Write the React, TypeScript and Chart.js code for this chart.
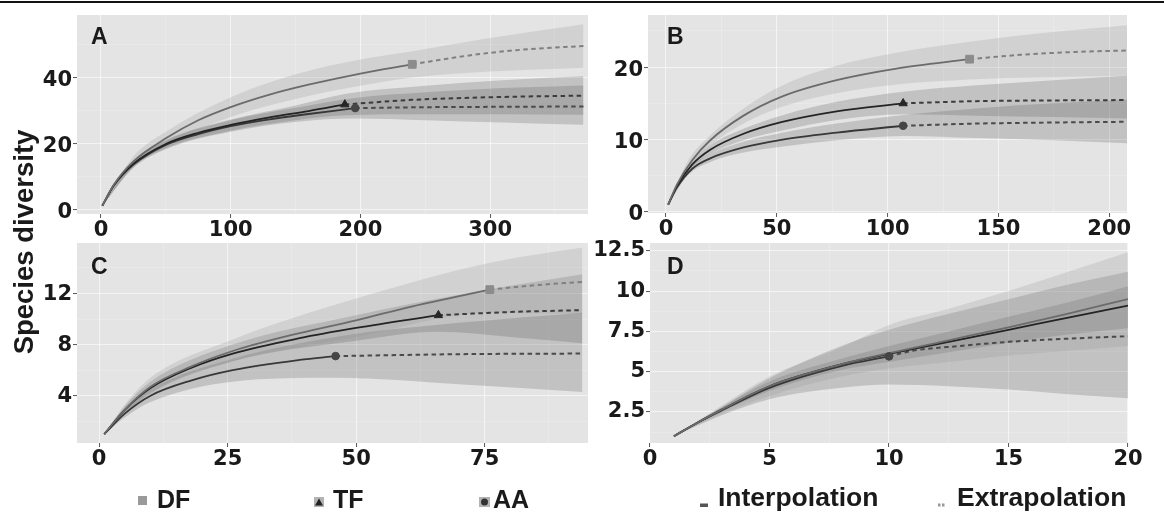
import React, { useEffect, useRef } from "react";
import { Chart, registerables } from "chart.js";

Chart.register(...registerables);

// ---------------- Panel A ----------------
const A_xTicks = [0, 100, 200, 300];
const A_yTicks = [0, 20, 40];
const A_DF_ix = [1, 10, 25, 50, 75, 100, 130, 160, 200, 240];
const A_DF_iy = [1, 7.5, 14.5, 21.5, 27, 31, 34.8, 37.8, 41.2, 44];
const A_DF_ex = [240, 280, 320, 372];
const A_DF_ey = [44, 46.5, 48.3, 49.6];
const A_DF_bx = [1, 25, 50, 100, 150, 200, 240, 300, 372];
const A_DF_lo = [1, 13, 19.5, 28, 33.5, 37.5, 40, 41.8, 43];
const A_DF_hi = [1, 16, 23.5, 34, 41, 45.5, 48, 52, 56.2];

const A_TF_ix = [1, 10, 25, 50, 75, 100, 130, 160, 188];
const A_TF_iy = [1, 7.3, 13.8, 19.8, 23.2, 25.6, 27.9, 29.8, 31.8];
const A_TF_ex = [188, 240, 300, 372];
const A_TF_ey = [31.8, 33.2, 34.0, 34.5];
const A_TF_bx = [1, 25, 50, 100, 150, 188, 250, 310, 372];
const A_TF_lo = [1, 12.8, 18.5, 23.8, 27, 28.5, 28.8, 28.8, 28.7];
const A_TF_hi = [1, 14.8, 21, 27.2, 31.5, 35, 37.5, 39.2, 40.4];

const A_AA_ix = [1, 10, 25, 50, 75, 100, 130, 160, 196];
const A_AA_iy = [1, 7.2, 13.5, 19.5, 22.8, 25.2, 27.3, 28.9, 30.7];
const A_AA_ex = [196, 260, 320, 372];
const A_AA_ey = [30.7, 31.0, 31.1, 31.2];
const A_AA_bx = [1, 25, 50, 100, 150, 196, 250, 310, 372];
const A_AA_lo = [1, 12.5, 18.2, 23.5, 26.5, 27.5, 27, 26.3, 25.6];
const A_AA_hi = [1, 14.5, 20.8, 27, 30.8, 33.8, 35.5, 36.8, 37.6];

// ---------------- Panel B ----------------
const B_xTicks = [0, 50, 100, 150, 200];
const B_yTicks = [0, 10, 20];
const B_DF_ix = [1, 5, 12, 20, 35, 52, 77, 104, 137];
const B_DF_iy = [1, 3.8, 7.2, 9.9, 13.3, 15.9, 18.2, 19.8, 21.1];
const B_DF_ex = [137, 160, 185, 208];
const B_DF_ey = [21.1, 21.7, 22.1, 22.3];
const B_DF_bx = [1, 10, 20, 35, 52, 77, 104, 137, 170, 208];
const B_DF_lo = [1, 6.3, 9.2, 12.2, 14.5, 16.4, 17.6, 18.3, 18.6, 18.8];
const B_DF_hi = [1, 7.1, 10.6, 14.3, 17.4, 20.2, 22.0, 23.5, 24.7, 25.8];

const B_TF_ix = [1, 5, 12, 20, 35, 52, 77, 107];
const B_TF_iy = [1, 3.6, 6.6, 8.6, 10.8, 12.4, 13.9, 15.0];
const B_TF_ex = [107, 140, 175, 208];
const B_TF_ey = [15.0, 15.3, 15.4, 15.45];
const B_TF_bx = [1, 10, 20, 35, 52, 77, 107, 140, 175, 208];
const B_TF_lo = [1, 5.6, 8.0, 9.9, 11.2, 12.7, 13.5, 13.3, 13.1, 12.9];
const B_TF_hi = [1, 6.3, 9.2, 11.5, 13.3, 15.2, 16.6, 17.5, 18.2, 18.8];

const B_AA_ix = [1, 5, 12, 20, 35, 52, 77, 107];
const B_AA_iy = [1, 3.4, 6.0, 7.4, 8.9, 9.95, 10.95, 11.9];
const B_AA_ex = [107, 140, 175, 208];
const B_AA_ey = [11.9, 12.2, 12.35, 12.45];
const B_AA_bx = [1, 10, 20, 35, 52, 77, 107, 140, 175, 208];
const B_AA_lo = [1, 5.1, 6.9, 8.2, 9.0, 9.9, 10.5, 10.2, 9.9, 9.5];
const B_AA_hi = [1, 5.8, 8.0, 9.7, 10.9, 12.2, 13.4, 14.3, 15.0, 15.5];

// ---------------- Panel C ----------------
const C_xTicks = [0, 25, 50, 75];
const C_yTicks = [4, 8, 12];
const C_DF_ix = [1, 5, 10, 18, 26, 39, 50, 61, 76];
const C_DF_iy = [1, 2.9, 4.7, 6.3, 7.5, 8.9, 9.9, 11.0, 12.3];
const C_DF_ex = [76, 85, 94];
const C_DF_ey = [12.3, 12.65, 12.9];
const C_DF_bx = [1, 5, 10, 26, 50, 76, 94];
const C_DF_lo = [1, 2.6, 4.3, 6.7, 8.6, 10.5, 10.4];
const C_DF_hi = [1, 3.3, 5.4, 8.4, 11.6, 14.4, 15.6];

const C_TF_ix = [1, 5, 10, 18, 26, 39, 50, 66];
const C_TF_iy = [1, 2.9, 4.6, 6.2, 7.3, 8.5, 9.3, 10.3];
const C_TF_ex = [66, 80, 94];
const C_TF_ey = [10.3, 10.55, 10.7];
const C_TF_bx = [1, 5, 10, 26, 50, 66, 80, 94];
const C_TF_lo = [1, 2.6, 4.2, 6.7, 8.3, 9.0, 8.6, 8.1];
const C_TF_hi = [1, 3.2, 5.1, 8.0, 10.3, 11.6, 12.6, 13.5];

const C_AA_ix = [1, 5, 10, 18, 26, 39, 46];
const C_AA_iy = [1, 2.6, 4.0, 5.2, 6.0, 6.8, 7.1];
const C_AA_ex = [46, 70, 94];
const C_AA_ey = [7.1, 7.25, 7.3];
const C_AA_bx = [1, 5, 10, 26, 46, 70, 94];
const C_AA_lo = [1, 2.3, 3.5, 5.1, 5.4, 4.9, 4.3];
const C_AA_hi = [1, 2.9, 4.5, 6.9, 8.6, 9.7, 10.5];

// ---------------- Panel D ----------------
const D_xTicks = [0, 5, 10, 15, 20];
const D_yTicks = [2.5, 5, 7.5, 10, 12.5];
const D_DF_ix = [1, 2, 3, 5, 8, 10, 12.5, 15, 17.5, 20];
const D_DF_iy = [1, 1.85, 2.65, 4.1, 5.45, 6.15, 6.95, 7.75, 8.6, 9.5];
const D_DF_ex: number[] = [];
const D_DF_ey: number[] = [];
const D_DF_bx = [1, 3, 5, 8, 10, 12.5, 15, 17.5, 20];
const D_DF_lo = [1, 2.4, 3.5, 4.7, 5.2, 5.6, 6.0, 6.3, 6.6];
const D_DF_hi = [1, 2.9, 4.7, 6.5, 7.9, 8.9, 10.0, 11.2, 12.4];

const D_TF_ix = [1, 2, 3, 5, 8, 10, 12.5, 15, 17.5, 20];
const D_TF_iy = [1, 1.85, 2.65, 4.1, 5.45, 6.1, 6.85, 7.6, 8.35, 9.1];
const D_TF_ex: number[] = [];
const D_TF_ey: number[] = [];
const D_TF_bx = [1, 3, 5, 8, 10, 12.5, 15, 17.5, 20];
const D_TF_lo = [1, 2.5, 3.8, 5.1, 5.6, 6.2, 6.8, 7.3, 7.7];
const D_TF_hi = [1, 2.8, 4.4, 5.8, 6.6, 7.5, 8.4, 9.3, 10.3];

const D_AA_ix = [1, 2, 3, 5, 8, 10];
const D_AA_iy = [1, 1.85, 2.6, 4.0, 5.35, 5.95];
const D_AA_ex = [10, 11, 13, 15, 17.5, 20];
const D_AA_ey = [5.95, 6.3, 6.6, 6.85, 7.05, 7.2];
const D_AA_bx = [1, 3, 5, 8, 10, 12.5, 15, 17.5, 20];
const D_AA_lo = [1, 2.3, 3.3, 4.0, 4.2, 4.1, 3.9, 3.6, 3.35];
const D_AA_hi = [1, 2.8, 4.6, 6.6, 7.6, 8.6, 9.5, 10.4, 11.2];

// ---------------- styles ----------------
const STYLE: Record<string, any> = {
  DF: { band: "rgba(150,150,150,0.24)", line: "#6b6b6b", dash: "#808080", shape: "rect", pcol: "#8c8c8c", r: 5.5 },
  TF: { band: "rgba(90,90,90,0.25)", line: "#242424", dash: "#3c3c3c", shape: "triangle", pcol: "#262626", r: 4.8 },
  AA: { band: "rgba(80,80,80,0.23)", line: "#383838", dash: "#4a4a4a", shape: "circle", pcol: "#454545", r: 3.8 },
};

const grp = (name: string, ix: number[], iy: number[], ex: number[], ey: number[], bx: number[], lo: number[], hi: number[]) => ({
  name, ix, iy, ex, ey, bx, lo, hi,
});

const PANELS = [
  {
    id: "A", left: 0, top: 0, w: 618, h: 245, area: { l: 77, t: 15, r: 588, b: 214 }, yLabelShift: 3,
    x: { min: -18.5, max: 375.5, major: A_xTicks }, y: { min: -1.5, max: 59, major: A_yTicks },
    groups: [
      grp("DF", A_DF_ix, A_DF_iy, A_DF_ex, A_DF_ey, A_DF_bx, A_DF_lo, A_DF_hi),
      grp("TF", A_TF_ix, A_TF_iy, A_TF_ex, A_TF_ey, A_TF_bx, A_TF_lo, A_TF_hi),
      grp("AA", A_AA_ix, A_AA_iy, A_AA_ex, A_AA_ey, A_AA_bx, A_AA_lo, A_AA_hi),
    ],
  },
  {
    id: "B", left: 560, top: 0, w: 597, h: 245, area: { l: 88, t: 15, r: 567, b: 213 }, yLabelShift: 3,
    x: { min: -8.1, max: 208, major: B_xTicks }, y: { min: -0.15, max: 27.2, major: B_yTicks },
    groups: [
      grp("DF", B_DF_ix, B_DF_iy, B_DF_ex, B_DF_ey, B_DF_bx, B_DF_lo, B_DF_hi),
      grp("TF", B_TF_ix, B_TF_iy, B_TF_ex, B_TF_ey, B_TF_bx, B_TF_lo, B_TF_hi),
      grp("AA", B_AA_ix, B_AA_iy, B_AA_ex, B_AA_ey, B_AA_bx, B_AA_lo, B_AA_hi),
    ],
  },
  {
    id: "C", left: 0, top: 225, w: 618, h: 250, area: { l: 77, t: 18, r: 588, b: 218 }, yLabelShift: 1,
    x: { min: -4.3, max: 95.1, major: C_xTicks }, y: { min: 0.3, max: 15.95, major: C_yTicks },
    groups: [
      grp("DF", C_DF_ix, C_DF_iy, C_DF_ex, C_DF_ey, C_DF_bx, C_DF_lo, C_DF_hi),
      grp("TF", C_TF_ix, C_TF_iy, C_TF_ex, C_TF_ey, C_TF_bx, C_TF_lo, C_TF_hi),
      grp("AA", C_AA_ix, C_AA_iy, C_AA_ex, C_AA_ey, C_AA_bx, C_AA_lo, C_AA_hi),
    ],
  },
  {
    id: "D", left: 560, top: 225, w: 598, h: 250, area: { l: 90, t: 18, r: 568, b: 218 }, yLabelShift: 0,
    x: { min: 0, max: 20, major: D_xTicks }, y: { min: 0.58, max: 12.98, major: D_yTicks },
    groups: [
      grp("DF", D_DF_ix, D_DF_iy, D_DF_ex, D_DF_ey, D_DF_bx, D_DF_lo, D_DF_hi),
      grp("TF", D_TF_ix, D_TF_iy, D_TF_ex, D_TF_ey, D_TF_bx, D_TF_lo, D_TF_hi),
      grp("AA", D_AA_ix, D_AA_iy, D_AA_ex, D_AA_ey, D_AA_bx, D_AA_lo, D_AA_hi),
    ],
  },
];

const TICK_FONT = { family: "'DejaVu Sans', sans-serif", weight: "bold" as const, size: 21, lineHeight: 1 };
const TEXT_COLOR = "#1a1a1a";

function allTicks(major: number[], min: number, max: number) {
  const step = major[1] - major[0];
  const vals: number[] = [];
  for (let v = major[0] - step * 2; v <= major[major.length - 1] + step * 2 + 1e-9; v += step / 2) {
    const r = Math.round(v * 1000) / 1000;
    if (r >= min - 1e-9 && r <= max + 1e-9) vals.push(r);
  }
  return vals;
}

const isMajor = (major: number[], v: number) => major.some((m) => Math.abs(m - v) < 1e-6);

const bgPlugin = {
  id: "panelBg",
  beforeDraw(chart: any) {
    const { ctx, chartArea: a } = chart;
    ctx.save();
    ctx.fillStyle = "#e4e4e4";
    ctx.fillRect(a.left, a.top, a.right - a.left, a.bottom - a.top);
    ctx.restore();
  },
};

function axisOptions(ax: any, horizontal: boolean, fitSize: number, labelShift: number) {
  const ticksArr = allTicks(ax.major, ax.min, ax.max);
  return {
    type: "linear",
    min: ax.min,
    max: ax.max,
    afterBuildTicks: (scale: any) => {
      scale.ticks = ticksArr.map((v) => ({ value: v }));
    },
    afterFit: (scale: any) => {
      if (horizontal) scale.height = fitSize;
      else scale.width = fitSize;
    },
    border: { display: false },
    grid: {
      drawTicks: true,
      tickLength: 4,
      tickWidth: 1,
      color: (ctx: any) => (isMajor(ax.major, ctx.tick.value) ? "rgba(255,255,255,0.6)" : "rgba(255,255,255,0.3)"),
      lineWidth: (ctx: any) => (isMajor(ax.major, ctx.tick.value) ? 1.1 : 0.6),
      tickColor: (ctx: any) => (isMajor(ax.major, ctx.tick.value) ? "#555" : "rgba(0,0,0,0)"),
    },
    ticks: {
      autoSkip: false,
      maxRotation: 0,
      minRotation: 0,
      padding: horizontal ? 2 : 1,
      labelOffset: horizontal ? 0 : labelShift,
      color: TEXT_COLOR,
      font: TICK_FONT,
      callback: (v: any) => (isMajor(ax.major, v) ? String(v) : ""),
    },
  };
}

function buildConfig(p: any) {
  const datasets: any[] = [];
  p.groups.forEach((g: any) => {
    const st = STYLE[g.name];
    const loIdx = datasets.length;
    datasets.push({
      data: g.bx.map((x: number, i: number) => ({ x, y: g.lo[i] })),
      borderColor: "rgba(0,0,0,0)", borderWidth: 0, pointRadius: 0, fill: false, order: 5,
      cubicInterpolationMode: "monotone",
    });
    datasets.push({
      data: g.bx.map((x: number, i: number) => ({ x, y: g.hi[i] })),
      borderColor: "rgba(0,0,0,0)", borderWidth: 0, pointRadius: 0, fill: loIdx,
      backgroundColor: st.band, order: 5, cubicInterpolationMode: "monotone",
    });
  });
  p.groups.forEach((g: any) => {
    const st = STYLE[g.name];
    datasets.push({
      data: g.ix.map((x: number, i: number) => ({ x, y: g.iy[i] })),
      borderColor: st.line, borderWidth: 1.8, pointRadius: 0, fill: false, order: 2,
      cubicInterpolationMode: "monotone",
    });
    if (g.ex.length) {
      datasets.push({
        data: g.ex.map((x: number, i: number) => ({ x, y: g.ey[i] })),
        borderColor: st.dash, borderWidth: 2, borderDash: [4.5, 3.5], pointRadius: 0, fill: false, order: 2,
        cubicInterpolationMode: "monotone",
      });
      const n = g.ix.length - 1;
      datasets.push({
        data: [{ x: g.ix[n], y: g.iy[n] }],
        showLine: false, pointStyle: st.shape, pointRadius: st.r,
        pointBackgroundColor: st.pcol, pointBorderColor: st.pcol, pointBorderWidth: 1, order: 1,
      });
    }
  });
  const a = p.area;
  return {
    type: "line",
    data: { datasets },
    options: {
      responsive: false,
      maintainAspectRatio: false,
      animation: false,
      events: [],
      layout: { padding: { left: 0, top: a.t, right: p.w - a.r, bottom: 0 } },
      plugins: { legend: { display: false }, tooltip: { enabled: false } },
      scales: {
        x: axisOptions(p.x, true, p.h - a.b, 0),
        y: axisOptions(p.y, false, a.l, p.yLabelShift),
      },
    },
    plugins: [bgPlugin],
  };
}

function Panel({ p }: { p: any }) {
  const ref = useRef<HTMLCanvasElement | null>(null);
  useEffect(() => {
    const chart = new Chart(ref.current as HTMLCanvasElement, buildConfig(p) as any);
    return () => chart.destroy();
  }, []);
  return (
    <canvas
      ref={ref}
      width={p.w}
      height={p.h}
      style={{ position: "absolute", left: p.left, top: p.top, width: p.w, height: p.h }}
    />
  );
}

const SANS = "'Liberation Sans', Arial, sans-serif";

const LETTERS = [
  { t: "A", left: 91, top: 25 },
  { t: "B", left: 667, top: 25 },
  { t: "C", left: 91, top: 255 },
  { t: "D", left: 667, top: 255 },
];

const LEGEND_GROUPS = [
  { t: "DF", left: 157 },
  { t: "TF", left: 333 },
  { t: "AA", left: 493 },
];
const LEGEND_METHODS = [
  { t: "Interpolation", left: 718 },
  { t: "Extrapolation", left: 957 },
];

export default function App() {
  return (
    <div
      style={{
        position: "absolute", left: 0, top: 0, width: 1164, height: 512, background: "#fff",
        overflow: "hidden", fontFamily: SANS, color: TEXT_COLOR,
      }}
    >
      <div style={{ position: "absolute", left: 0, top: 1, width: 1164, height: 2, background: "#111" }} />
      {PANELS.map((p) => (
        <Panel key={p.id} p={p} />
      ))}
      {LETTERS.map((l) => (
        <div
          key={l.t}
          style={{
            position: "absolute", left: l.left, top: l.top, fontSize: 23, lineHeight: "23px",
            fontWeight: "bold", whiteSpace: "nowrap",
          }}
        >
          {l.t}
        </div>
      ))}
      <div
        style={{
          position: "absolute", left: -126, top: 227, width: 300, height: 30, lineHeight: "30px",
          fontSize: 27.5, fontWeight: "bold", textAlign: "center", transform: "rotate(-90deg)",
          whiteSpace: "nowrap",
        }}
      >
        Species diversity
      </div>
      <svg width={1164} height={512} style={{ position: "absolute", left: 0, top: 0 }}>
        <rect x={138} y={496} width={9} height={9} fill="#9a9a9a" />
        <rect x={314} y={497} width={10} height={10} fill="#b3b3b3" />
        <polygon points="319,498.5 323,505.5 315,505.5" fill="#222" />
        <rect x={479} y={497} width={11} height={10} fill="#b3b3b3" />
        <circle cx={484.5} cy={502} r={3.5} fill="#333" />
        <rect x={700} y={503.5} width={8} height={3.5} fill="#555" />
        <rect x={938} y={503.5} width={2.5} height={3} fill="#999" />
        <rect x={942} y={503.5} width={2.5} height={3} fill="#999" />
      </svg>
      {LEGEND_GROUPS.map((l) => (
        <div
          key={l.t}
          style={{
            position: "absolute", left: l.left, top: 487, fontSize: 25, lineHeight: "25px",
            fontWeight: "bold", whiteSpace: "nowrap",
          }}
        >
          {l.t}
        </div>
      ))}
      {LEGEND_METHODS.map((l) => (
        <div
          key={l.t}
          style={{
            position: "absolute", left: l.left, top: 484, fontSize: 26.5, lineHeight: "26.5px",
            fontWeight: "bold", whiteSpace: "nowrap",
          }}
        >
          {l.t}
        </div>
      ))}
    </div>
  );
}
